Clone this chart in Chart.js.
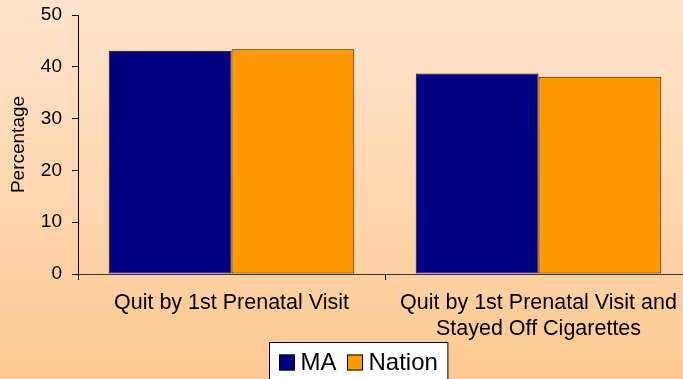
<!DOCTYPE html>
<html>
<head>
<meta charset="utf-8">
<script src="https://cdn.jsdelivr.net/npm/chart.js@4/dist/chart.umd.min.js"></script>
<style>
  html, body { margin: 0; padding: 0; }
  body {
    width: 683px; height: 379px; overflow: hidden;
    background: linear-gradient(to bottom, #fee4cd 0%, #fed8b2 45%, #fec893 100%);
  }
  #wrap { width: 683px; height: 379px; overflow: hidden; position: relative; }
  canvas { display: block; }
</style>
</head>
<body>
<div id="wrap"><canvas id="c" width="716" height="379"></canvas></div>
<script>
// Smoking cessation during pregnancy, MA vs. nation (percent)
const categories = [
  ['Quit by 1st Prenatal Visit'],
  ['Quit by 1st Prenatal Visit and', 'Stayed Off Cigarettes']
];
const seriesNames = ['MA', 'Nation'];
const maValues = [43.1, 38.7];
const nationValues = [43.4, 38.1];
const yMin = 0, yMax = 50, yStep = 10;
const yTitle = 'Percentage';

const FONT = "'Liberation Sans', Arial, Helvetica, sans-serif";
const colors = ['#000080', '#ff9900'];

// Boxed legend under the axis labels
const boxedLegend = {
  id: 'boxedLegend',
  afterDraw(chart) {
    const ctx = chart.ctx;
    const sets = chart.data.datasets;
    ctx.save();
    ctx.font = '24px ' + FONT;
    const sq = 16, gapAfterSq = 6, gapItems = 10, padL = 9, padR = 10;
    let total = padL + padR;
    sets.forEach((d, i) => {
      total += sq + gapAfterSq + ctx.measureText(d.label).width;
      if (i < sets.length - 1) total += gapItems;
    });
    const left = Math.round(chart.width / 2 - total / 2) + 0.5;
    const top = 342.5;
    ctx.fillStyle = '#ffffff';
    ctx.strokeStyle = '#000000';
    ctx.lineWidth = 1;
    ctx.fillRect(left, top, total, 40);
    ctx.strokeRect(left, top, total, 40);
    let x = left + padL;
    const cy = 362.5;
    sets.forEach((d, i) => {
      ctx.fillStyle = d.backgroundColor;
      ctx.fillRect(Math.round(x), cy - sq / 2, sq, sq);
      ctx.strokeStyle = '#000';
      ctx.strokeRect(Math.round(x) + 0.5, cy - sq / 2 + 0.5, sq - 1, sq - 1);
      x += sq + gapAfterSq;
      ctx.fillStyle = '#000';
      ctx.textBaseline = 'middle';
      ctx.textAlign = 'left';
      ctx.fillText(d.label, x, cy + 1);
      x += ctx.measureText(d.label).width + gapItems;
    });
    ctx.restore();
  }
};

new Chart(document.getElementById('c'), {
  type: 'bar',
  data: {
    labels: categories,
    datasets: [
      { label: seriesNames[0], data: maValues, backgroundColor: colors[0],
        borderColor: '#111', borderWidth: 1, borderSkipped: false },
      { label: seriesNames[1], data: nationValues, backgroundColor: colors[1],
        borderColor: '#111', borderWidth: 1, borderSkipped: false }
    ]
  },
  options: {
    responsive: false,
    animation: false,
    devicePixelRatio: 1,
    layout: { padding: { left: 0, right: 24, top: 15, bottom: 35 } },
    datasets: { bar: { categoryPercentage: 0.8, barPercentage: 1.0 } },
    plugins: {
      legend: { display: false },
      tooltip: { enabled: false }
    },
    scales: {
      x: {
        offset: true,
        grid: { offset: true, drawOnChartArea: false, drawTicks: true, tickLength: 6, color: '#000' },
        border: { color: '#333', width: 1 },
        ticks: { color: '#000', padding: 10, maxRotation: 0, autoSkip: false,
          font: { family: FONT, size: 21.5, lineHeight: 1.22 } },
        afterFit(scale) { scale.height = 70; }
      },
      y: {
        min: yMin, max: yMax,
        ticks: { stepSize: yStep, color: '#000', padding: 10,
          font: { family: FONT, size: 19, lineHeight: 0.5 } },
        grid: { drawOnChartArea: false, drawTicks: true, tickLength: 6, color: '#000' },
        border: { color: '#000', width: 1 },
        title: { display: true, text: yTitle, color: '#000',
          font: { family: FONT, size: 19 }, padding: { top: 7, bottom: 0 } },
        afterFit(scale) { scale.width = 78; }
      }
    }
  },
  plugins: [boxedLegend]
});
</script>
</body>
</html>
